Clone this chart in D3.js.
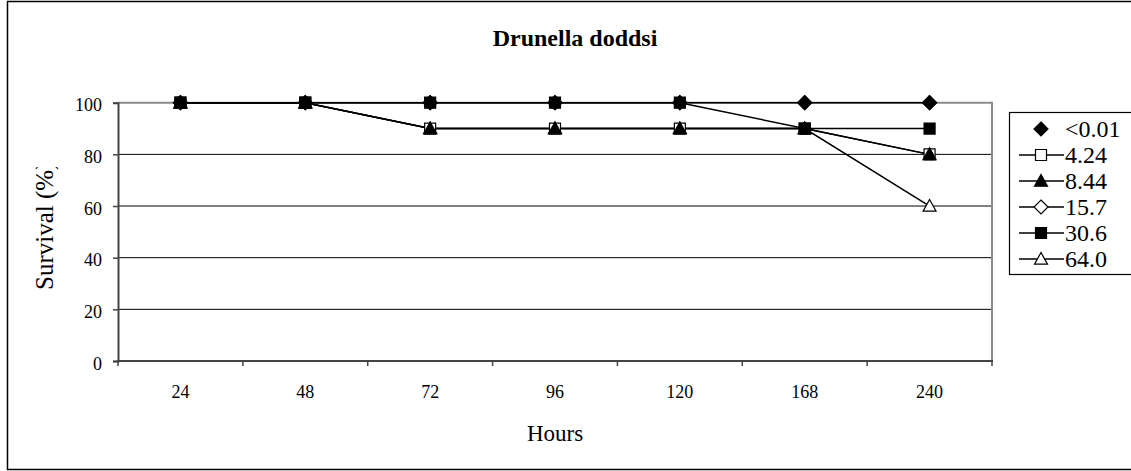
<!DOCTYPE html>
<html>
<head>
<meta charset="utf-8">
<script src="https://cdn.jsdelivr.net/npm/d3@7"></script>
<style>
  body { margin: 0; background: #fff; }
  svg { display: block; font-family: "Liberation Serif", "Times New Roman", "DejaVu Serif", serif; }
</style>
</head>
<body>
<div id="chart"></div>
<script>
// Data
var hours = ["24", "48", "72", "96", "120", "168", "240"];
var seriesNames = ["<0.01", "4.24", "8.44", "15.7", "30.6", "64.0"];
var s001 = [100, 100, 100, 100, 100, 100, 100];
var s424 = [100, 100, 90, 90, 90, 90, 80];
var s844 = [100, 100, 90, 90, 90, 90, 80];
var s157 = [100, 100, 100, 100, 100, 100, 100];
var s306 = [100, 100, 100, 100, 100, 90, 90];
var s640 = [100, 100, 90, 90, 90, 90, 60];
var yTicks = [0, 20, 40, 60, 80, 100];

// marker shapes
function square(r) { return "M" + (-r) + "," + (-r) + "h" + 2 * r + "v" + 2 * r + "h" + (-2 * r) + "Z"; }
function diamond(r) { return "M0," + (-r) + "L" + r + ",0L0," + r + "L" + (-r) + ",0Z"; }
function triangle(r) { return "M0," + (-r) + "L" + r + "," + (r * 0.8) + "L" + (-r) + "," + (r * 0.8) + "Z"; }

var series = [
  {name: seriesNames[0], values: s001, shape: diamond(7),   fill: "#000", line: false},
  {name: seriesNames[1], values: s424, shape: square(5.5),  fill: "#fff", line: true},
  {name: seriesNames[2], values: s844, shape: triangle(6.5), fill: "#000", line: true},
  {name: seriesNames[3], values: s157, shape: diamond(7),   fill: "#fff", line: true},
  {name: seriesNames[4], values: s306, shape: square(5.5),  fill: "#000", line: true},
  {name: seriesNames[5], values: s640, shape: triangle(6.5), fill: "#fff", line: true}
];
// order in which the marks are stacked (bottom first)
var drawOrder = [5, 1, 2, 3, 0, 4];

var W = 1131, H = 471;
var plot = {left: 118, right: 992, top: 102.7, bottom: 361};

var svg = d3.select("#chart").append("svg")
  .attr("width", W)
  .attr("height", H);

// outer chart border
svg.append("rect")
  .attr("x", 7.5).attr("y", 1.5)
  .attr("width", 1200).attr("height", H - 3)
  .attr("fill", "#fff")
  .attr("stroke", "#000")
  .attr("stroke-width", 1.5);

var xScale = d3.scaleBand()
  .domain(hours)
  .range([plot.left, plot.right])
  .padding(0);

var yScale = d3.scaleLinear()
  .domain([0, 100])
  .range([plot.bottom, plot.top]);

// gridlines
svg.append("g")
  .selectAll("line")
  .data(yTicks.filter(function(d) { return d > 0 && d < 100; }))
  .enter().append("line")
  .attr("x1", plot.left).attr("x2", plot.right)
  .attr("y1", function(d) { return yScale(d); })
  .attr("y2", function(d) { return yScale(d); })
  .attr("stroke", "#000")
  .attr("stroke-width", 1);

// plot area border (top & right)
svg.append("path")
  .attr("d", "M" + plot.left + "," + plot.top + "H" + plot.right + "V" + plot.bottom)
  .attr("fill", "none")
  .attr("stroke", "#8c8c8c")
  .attr("stroke-width", 2);

// y axis
var yAxis = svg.append("g")
  .attr("transform", "translate(" + plot.left + ",0)")
  .call(d3.axisLeft(yScale).tickValues(yTicks).tickSize(5).tickPadding(11));
yAxis.attr("font-family", null);
yAxis.select(".domain").attr("stroke", "#444").attr("stroke-width", 2);
yAxis.selectAll(".tick line").attr("stroke", "#444").attr("stroke-width", 1.5);
yAxis.selectAll(".tick text")
  .attr("dy", "0.45em")
  .style("font-size", "18px")
  .attr("fill", "#000");

// x axis: ticks between categories, labels at centres
var xAxis = svg.append("g")
  .attr("transform", "translate(0," + plot.bottom + ")")
  .call(d3.axisBottom(xScale).tickSize(0).tickPadding(0));
xAxis.attr("font-family", null);
xAxis.select(".domain").remove();
xAxis.selectAll(".tick text")
  .attr("y", 37)
  .attr("dy", 0)
  .style("font-size", "18px")
  .attr("fill", "#000");

var bounds = hours.map(function(d) { return xScale(d); }).concat([plot.right]);
svg.append("g")
  .selectAll("line")
  .data(bounds)
  .enter().append("line")
  .attr("x1", function(d) { return d; }).attr("x2", function(d) { return d; })
  .attr("y1", plot.bottom).attr("y2", plot.bottom + 5)
  .attr("stroke", "#444")
  .attr("stroke-width", 1.5);
svg.append("line")
  .attr("x1", plot.left - 1).attr("x2", plot.right + 1)
  .attr("y1", plot.bottom).attr("y2", plot.bottom)
  .attr("stroke", "#444")
  .attr("stroke-width", 2);

function cx(i) { return xScale(hours[i]) + xScale.bandwidth() / 2; }

var line = d3.line()
  .x(function(d, i) { return cx(i); })
  .y(function(d) { return yScale(d); });

// lines first
drawOrder.forEach(function(k) {
  var s = series[k];
  if (!s.line) return;
  svg.append("path")
    .datum(s.values)
    .attr("d", line)
    .attr("fill", "none")
    .attr("stroke", "#000")
    .attr("stroke-width", 1.5);
});

// markers
drawOrder.forEach(function(k) {
  var s = series[k];
  svg.append("g")
    .selectAll("path")
    .data(s.values)
    .enter().append("path")
    .attr("transform", function(d, i) { return "translate(" + cx(i) + "," + yScale(d) + ")"; })
    .attr("d", s.shape)
    .attr("fill", s.fill)
    .attr("stroke", "#000")
    .attr("stroke-width", 1.2);
});

// title
svg.append("text")
  .attr("x", 575)
  .attr("y", 46)
  .attr("text-anchor", "middle")
  .attr("font-weight", "bold")
  .style("font-size", "24px")
  .text("Drunella doddsi");

// axis titles
svg.append("text")
  .attr("x", (plot.left + plot.right) / 2)
  .attr("y", 441)
  .attr("text-anchor", "middle")
  .style("font-size", "23px")
  .text("Hours");

svg.append("clipPath")
  .attr("id", "yclip")
  .append("rect")
  .attr("x", 0).attr("y", 167).attr("width", 100).attr("height", 200);

svg.append("g")
  .attr("clip-path", "url(#yclip)")
  .append("text")
  .attr("transform", "translate(53,290) rotate(-90)")
  .attr("text-anchor", "start")
  .style("font-size", "25px")
  .text("Survival (%)");

// legend
var legendBox = {x: 1009.5, y: 112.5};
svg.append("rect")
  .attr("x", legendBox.x).attr("y", legendBox.y)
  .attr("width", 200).attr("height", 162)
  .attr("fill", "#fff")
  .attr("stroke", "#000")
  .attr("stroke-width", 1.2);

var legend = svg.selectAll(".legend")
  .data(series)
  .enter().append("g")
  .attr("class", "legend")
  .attr("transform", function(d, i) { return "translate(0," + (129 + i * 26) + ")"; });

legend.filter(function(d) { return d.line; })
  .append("line")
  .attr("x1", 1019).attr("x2", 1064)
  .attr("y1", 0).attr("y2", 0)
  .attr("stroke", "#000")
  .attr("stroke-width", 1.5);

legend.append("path")
  .attr("transform", "translate(1041,0)")
  .attr("d", function(d) { return d.shape; })
  .attr("fill", function(d) { return d.fill; })
  .attr("stroke", "#000")
  .attr("stroke-width", 1.2);

legend.append("text")
  .attr("x", 1065)
  .attr("y", 8)
  .style("font-size", "24px")
  .text(function(d) { return d.name; });
</script>
</body>
</html>
